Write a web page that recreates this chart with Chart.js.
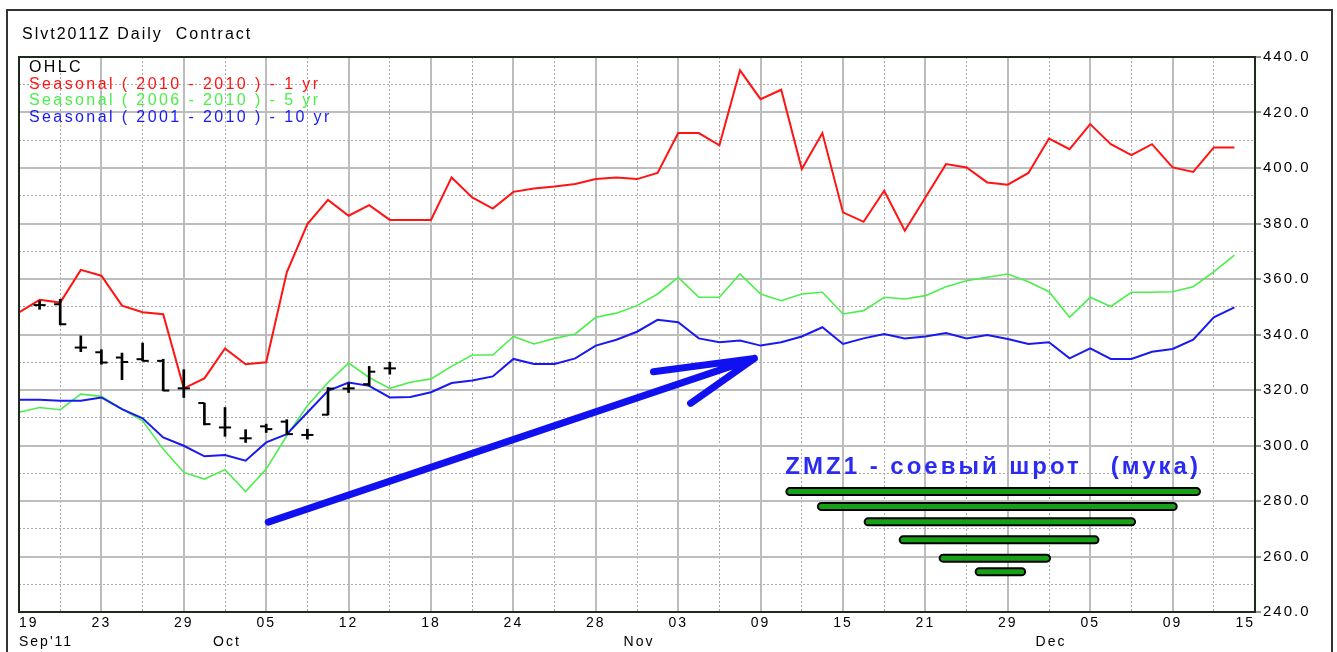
<!DOCTYPE html>
<html>
<head>
<meta charset="utf-8">
<script src="https://cdn.jsdelivr.net/npm/chart.js@4.4.1/dist/chart.umd.min.js"></script>
<style>
  html, body { margin: 0; padding: 0; background: #fff; }
  #wrap { width: 1337px; height: 652px; }
</style>
</head>
<body>
<div id="wrap"><canvas id="seasonChart" width="1337" height="652"></canvas></div>
<script>
// x axis: one slot per trading day, a day label every 4 slots
const dayLabels = ['19', '23', '29', '05', '12', '18', '24', '28', '03', '09', '15', '21', '29', '05', '09', '15'];
const dayTickIdx = [0, 4, 8, 12, 16, 20, 24, 28, 32, 36, 40, 44, 48, 52, 56, 60];
const monthLabels = ["Sep'11", 'Oct', 'Nov', 'Dec'];
const monthIdx = [0, 10, 30, 50];
const priceTicks = [240, 260, 280, 300, 320, 340, 360, 380, 400, 420, 440];

const seriesNames = [
    'Seasonal ( 2010 - 2010 ) - 1 yr',
    'Seasonal ( 2006 - 2010 ) - 5 yr',
    'Seasonal ( 2001 - 2010 ) - 10 yr'
];
const seasonal1yr = [
    348, 352.5, 351.5, 363.3, 361.2, 350.4, 348, 347.3, 320.6, 324.2,
    335, 329.3, 330, 362.4, 379.8, 388.5, 382.8, 386.6, 381.3, 381.3,
    381.3, 396.6, 389.4, 385.4, 391.4, 392.6, 393.3, 394.2, 396, 396.6,
    396, 398.2, 412.6, 412.6, 408.2, 435.2, 424.8, 428.2, 399.6, 412.6,
    384, 380.6, 391.8, 377.4, 389.4, 401.4, 400.2, 394.8, 394, 398.2,
    410.6, 406.8, 415.8, 408.6, 404.6, 408.6, 400.2, 398.6, 407.4, 407.4
];
const seasonal5yr = [
    312, 313.7, 312.9, 318.5, 317.7, 313.1, 308.9, 298.7, 290.3, 287.9,
    291.3, 283.4, 291.5, 303.5, 314.3, 322.7, 329.7, 324.5, 320.6, 322.8,
    324, 328.5, 332.6, 332.6, 339.3, 336.6, 338.6, 340.2, 346.2, 347.7,
    350.4, 354.6, 360.6, 353.4, 353.4, 361.8, 354.6, 352.2, 354.6, 355.2,
    347.4, 348.6, 353.4, 352.8, 354, 357.2, 359.4, 360.6, 361.8, 359,
    355.4, 346.2, 353.4, 350.1, 355.2, 355.2, 355.4, 357.2, 362.6, 368.6
];
const seasonal10yr = [
    316.5, 316.5, 316.1, 316.1, 317.3, 313.1, 309.8, 302.9, 299.9, 296.1,
    296.6, 294.5, 301.1, 304.1, 311.9, 319.7, 322.7, 321.5, 317.3, 317.5,
    319.2, 322.5, 323.4, 324.9, 331.2, 329.4, 329.4, 331.4, 336, 338.1,
    341, 345.3, 344.4, 338.6, 337.2, 337.8, 336, 337.2, 339.3, 342.6,
    336.6, 338.6, 340.2, 338.6, 339.3, 340.5, 338.6, 339.8, 338.4, 336.6,
    337.2, 331.4, 335, 331.2, 331.2, 333.8, 334.8, 338.1, 346.2, 349.8
];

// daily contract bars
const ohlcIdx   = [1, 2, 3, 4, 5, 6, 7, 8, 9, 10, 11, 12, 13, 14, 15, 16, 17, 18];
const ohlcOpen  = [350.6, 350.9, 335.3, 333.6, 331.7, 331.1, 330.5, 320.6, 315.3, 306.5, 302.6, 306.9, 308.6, 303.8, 311.1, 320.5, 322.1, 327.8];
const ohlcHigh  = [352.1, 352.7, 339.5, 334.5, 333.3, 336.9, 331.1, 327.3, 315.3, 313.7, 305.7, 307.7, 309.3, 305.9, 320.9, 322.5, 328.5, 330];
const ohlcLow   = [349.1, 343.5, 333.8, 329.3, 323.7, 330.5, 319.7, 317.3, 307.4, 303.3, 301.1, 304.7, 304.1, 302.3, 311, 319.1, 321.5, 325.7];
const ohlcClose = [350.6, 343.7, 335.3, 329.9, 330.1, 330.5, 319.8, 320.6, 307.7, 306.5, 302.6, 305.9, 304.1, 303.8, 320.5, 320.6, 326.6, 327.8];

// hand drawn notes, in (slot, price)
const noteText = 'ZMZ1 - соевый шрот   (мука)';
const arrowShaft = [[12.1, 272.4], [35.7, 331.4]];
const arrowHead = [[30.8, 326.6], [35.7, 331.4], [32.6, 315.2]];
const pyramidRows = [
    [37.42, 57.16, 283.4],
    [38.95, 56.03, 278],
    [41.22, 54.01, 272.5],
    [42.92, 52.23, 266],
    [44.86, 49.88, 259.4],
    [46.61, 48.67, 254.5]
];

const FONT = 'Arial, "Liberation Sans", sans-serif';
const SPACING = '2px';

const toPoints = arr => arr.map((v, i) => ({ x: i, y: v }));
const pathPoints = paths => paths.flatMap((p, k) => {
    const pts = p.map(([x, y]) => ({ x, y }));
    if (k < paths.length - 1) pts.push({ x: p[p.length - 1][0], y: null });
    return pts;
});
const pyramidPoints = pyramidRows.flatMap(([a, b, lvl]) => [
    { x: a, y: lvl }, { x: b, y: lvl }, { x: b, y: null }
]);
const midpoints = arr => arr.slice(1).map((v, k) => (v + arr[k]) / 2);

const decor = {
    id: 'decor',
    beforeUpdate(chart) { chart.ctx.letterSpacing = SPACING; },
    beforeDraw(chart) {
        const c = chart.ctx;
        c.letterSpacing = SPACING;
        c.save();
        c.fillStyle = '#fff';
        c.fillRect(0, 0, chart.width, chart.height);
        c.strokeStyle = '#333';
        c.lineWidth = 2;
        c.strokeRect(7, 10, chart.width - 12, chart.height + 10);
        c.restore();
    },
    afterDraw(chart) {
        const c = chart.ctx;
        const a = chart.chartArea;
        const xs = chart.scales.x;
        const ys = chart.scales.y;
        c.save();
        c.strokeStyle = '#1d2b1d';
        c.lineWidth = 2;
        c.strokeRect(a.left, a.top, a.right - a.left, a.bottom - a.top);

        c.textBaseline = 'middle';
        c.textAlign = 'left';
        c.font = '16px ' + FONT;
        c.fillStyle = '#000';
        c.fillText('Slvt2011Z Daily  Contract', 22, 34.5);

        // legend inside the plot
        const legendColors = ['#000', '#ff1414', '#4cee4c', '#1a1af0'];
        c.font = '16px ' + FONT;
        c.letterSpacing = '2.4px';
        ['OHLC'].concat(seriesNames).forEach((name, k) => {
            c.fillStyle = legendColors[k];
            c.fillText(name, a.left + 10, a.top + 10.5 + k * 16.7);
        });

        // month row under the day labels
        c.letterSpacing = SPACING;
        c.font = '14px ' + FONT;
        c.fillStyle = '#000';
        monthLabels.forEach((m, k) => {
            c.textAlign = k === 0 ? 'left' : 'center';
            c.fillText(m, xs.getPixelForValue(monthIdx[k]) + (k === 0 ? 0 : 2), a.bottom + 30);
        });

        c.textAlign = 'left';
        c.font = 'bold 24px ' + FONT;
        c.letterSpacing = '3px';
        c.fillStyle = '#2b2bf2';
        c.fillText(noteText, xs.getPixelForValue(37.2), ys.getPixelForValue(292));
        c.restore();
    }
};

const tickFont = { family: FONT, size: 14 };

new Chart(document.getElementById('seasonChart').getContext('2d'), {
    type: 'line',
    data: {
        datasets: [
            {
                type: 'bar',
                label: 'OHLC',
                data: ohlcIdx.map((x, k) => ({ x, y: [ohlcLow[k], ohlcHigh[k]] })),
                backgroundColor: '#000',
                barThickness: 2,
                borderWidth: 0
            },
            {
                label: 'open',
                data: ohlcIdx.map((x, k) => ({ x: x - 0.15, y: ohlcOpen[k] })),
                showLine: false,
                pointStyle: 'line',
                pointRadius: 3,
                pointBorderWidth: 2,
                pointBorderColor: '#000'
            },
            {
                label: 'close',
                data: ohlcIdx.map((x, k) => ({ x: x + 0.15, y: ohlcClose[k] })),
                showLine: false,
                pointStyle: 'line',
                pointRadius: 3,
                pointBorderWidth: 2,
                pointBorderColor: '#000'
            },
            {
                label: seriesNames[2],
                data: toPoints(seasonal10yr),
                borderColor: '#1a1af0',
                borderWidth: 2,
                pointRadius: 0
            },
            {
                label: seriesNames[1],
                data: toPoints(seasonal5yr),
                borderColor: '#4cee4c',
                borderWidth: 1.6,
                pointRadius: 0
            },
            {
                label: seriesNames[0],
                data: toPoints(seasonal1yr),
                borderColor: '#ff1414',
                borderWidth: 2,
                pointRadius: 0
            },
            {
                label: 'arrow',
                data: pathPoints([arrowShaft, arrowHead]),
                borderColor: '#1010f0',
                borderWidth: 7,
                borderCapStyle: 'round',
                borderJoinStyle: 'round',
                pointRadius: 0
            },
            {
                label: 'pyramid',
                data: pyramidPoints,
                borderColor: '#15a015',
                borderWidth: 5,
                borderCapStyle: 'round',
                pointRadius: 0
            },
            {
                label: 'pyramid edge',
                data: pyramidPoints,
                borderColor: '#000',
                borderWidth: 9,
                borderCapStyle: 'round',
                pointRadius: 0
            }
        ]
    },
    options: {
        responsive: false,
        animation: false,
        events: [],
        spanGaps: false,
        layout: { padding: { left: 19, top: 57, right: 0, bottom: 0 } },
        plugins: {
            legend: { display: false },
            title: { display: false },
            tooltip: { enabled: false }
        },
        scales: {
            x: {
                type: 'linear',
                position: 'bottom',
                min: 0,
                max: 60,
                offset: false,
                afterBuildTicks: s => { s.ticks = dayTickIdx.map(v => ({ value: v })); },
                ticks: {
                    callback: v => dayLabels[dayTickIdx.indexOf(v)],
                    align: 'inner',
                    autoSkip: false,
                    maxRotation: 0,
                    color: '#000',
                    font: tickFont,
                    padding: 3
                },
                grid: { color: '#bdbdbd', lineWidth: 2, drawTicks: false, offset: false },
                border: { display: false },
                afterFit: s => { s.height = 40; }
            },
            xMinor: {
                type: 'linear',
                position: 'bottom',
                min: 0,
                max: 60,
                offset: false,
                afterBuildTicks: s => { s.ticks = midpoints(dayTickIdx).map(v => ({ value: v })); },
                ticks: { display: false },
                grid: { color: '#a8a8a8', lineWidth: 1, drawTicks: false, offset: false },
                border: { display: false, dash: [2, 2] },
                afterFit: s => { s.height = 0; }
            },
            y: {
                type: 'linear',
                position: 'right',
                min: 240,
                max: 440,
                afterBuildTicks: s => { s.ticks = priceTicks.map(v => ({ value: v })); },
                ticks: {
                    callback: v => v.toFixed(1),
                    color: '#000',
                    font: { family: FONT, size: 15 },
                    padding: 2
                },
                grid: {
                    color: '#bdbdbd',
                    lineWidth: 2,
                    drawTicks: true,
                    tickLength: 6,
                    tickColor: '#1d2b1d',
                    tickWidth: 1
                },
                border: { display: false },
                afterFit: s => { s.width = 82; }
            },
            yMinor: {
                type: 'linear',
                position: 'right',
                min: 240,
                max: 440,
                afterBuildTicks: s => { s.ticks = midpoints(priceTicks).map(v => ({ value: v })); },
                ticks: { display: false },
                grid: { color: '#a8a8a8', lineWidth: 1, drawTicks: false },
                border: { display: false, dash: [2, 2] },
                afterFit: s => { s.width = 0; }
            }
        }
    },
    plugins: [decor]
});
</script>
</body>
</html>
